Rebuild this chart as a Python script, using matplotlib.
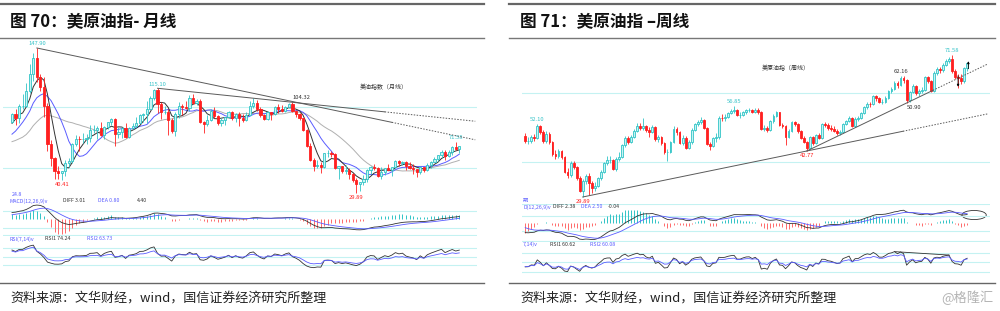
import numpy as np
import pandas as pd
import matplotlib
matplotlib.use("Agg")
import matplotlib.pyplot as plt
from matplotlib.lines import Line2D
from matplotlib.patches import Ellipse

plt.rcParams['font.family'] = ['Noto Sans CJK SC', 'DejaVu Sans']

# ---------------- 月线 (2007-12 .. 2018-06) ----------------
m_open = [88.0, 93.8, 91.0, 100.5, 101.0, 113.0, 127.0, 140.0, 124.5, 116.0,
          101.0, 69.5, 58.0, 47.5, 46.5, 47.5, 54.0, 56.0, 70.0, 74.0,
          73.5, 74.0, 75.0, 81.0, 81.5, 83.0, 77.0, 83.5, 87.5, 90.0,
          78.0, 79.5, 82.5, 75.5, 83.0, 84.5, 87.0, 93.5, 94.0, 98.5,
          107.5, 114.0, 102.5, 95.5, 96.0, 89.5, 80.5, 94.0, 101.0, 99.5,
          99.0, 107.5, 103.5, 105.0, 88.0, 86.0, 89.0, 96.5, 92.5, 87.0,
          89.0, 91.5, 95.5, 90.5, 94.5, 91.0, 89.5, 93.5, 101.0, 103.0,
          98.0, 93.0, 90.0, 95.5, 94.5, 99.5, 98.5, 97.0, 100.0, 102.0,
          97.0, 94.5, 90.5, 81.5, 68.5, 56.5, 51.5, 52.5, 51.0, 62.0,
          62.5, 61.5, 50.0, 51.5, 47.5, 48.5, 45.0, 40.5, 37.0, 38.5,
          41.5, 48.5, 51.0, 50.5, 44.0, 47.0, 50.0, 48.5, 51.0, 55.5,
          54.0, 55.2, 51.8, 50.5, 49.5, 47.2, 51.3, 48.4, 52.8, 55.4,
          57.8, 60.5, 63.4, 60.3, 63.6, 67.2, 65.8]
m_high = [95.0, 98.5, 102.0, 110.5, 119.0, 134.5, 143.5, 147.9, 127.0, 124.0,
          103.0, 73.0, 59.0, 52.0, 48.0, 57.0, 58.5, 70.5, 77.0, 76.0,
          79.0, 77.5, 85.5, 85.5, 84.0, 87.5, 84.0, 88.0, 91.0, 91.0,
          83.5, 83.5, 86.5, 83.5, 87.0, 91.5, 94.5, 95.0, 104.5, 108.5,
          114.5, 115.1, 104.0, 101.0, 98.0, 91.0, 95.5, 104.0, 102.5, 104.5,
          110.0, 110.5, 106.5, 106.5, 88.5, 93.5, 98.5, 100.0, 93.0, 90.5,
          91.5, 96.5, 96.5, 95.0, 95.5, 94.0, 96.0, 104.5, 107.0, 105.5,
          100.0, 94.0, 97.0, 96.0, 100.5, 102.0, 101.5, 101.0, 103.5, 104.32,
          97.5, 95.0, 91.0, 82.0, 70.5, 58.0, 57.0, 55.0, 62.5, 65.0,
          64.0, 62.0, 52.0, 52.0, 52.5, 50.0, 46.0, 42.0, 39.0, 44.5,
          49.0, 52.0, 53.5, 51.0, 51.0, 50.5, 53.5, 51.0, 56.5, 56.5,
          56.0, 55.6, 55.0, 53.2, 49.6, 51.6, 51.4, 54.0, 55.8, 59.5,
          60.6, 65.2, 65.0, 65.2, 68.3, 71.58, 68.3]
m_low = [86.5, 85.5, 87.0, 98.0, 100.0, 111.5, 121.0, 120.5, 112.5, 92.0,
         64.0, 52.0, 41.5, 41.0, 40.41, 43.5, 51.0, 54.0, 68.5, 64.0,
         70.5, 69.5, 71.0, 79.0, 74.0, 76.5, 73.5, 82.0, 85.5, 68.5,
         75.0, 75.0, 74.5, 74.5, 82.0, 83.0, 86.5, 87.5, 87.0, 98.0,
         105.5, 95.0, 90.0, 94.0, 77.0, 78.5, 76.5, 90.5, 93.5, 98.0,
         96.5, 102.5, 101.5, 87.0, 78.7, 84.5, 88.5, 90.5, 85.0, 84.5,
         85.0, 90.5, 89.0, 88.0, 84.0, 87.5, 88.5, 93.0, 99.0, 97.0,
         92.0, 89.0, 89.5, 89.0, 93.5, 95.0, 96.0, 95.5, 99.0, 96.0,
         92.0, 89.5, 80.5, 67.5, 55.5, 47.5, 50.0, 46.5, 50.0, 59.5,
         59.5, 49.5, 41.0, 46.0, 45.5, 41.5, 38.5, 29.89, 31.5, 36.5,
         38.5, 45.5, 48.5, 43.0, 41.5, 44.5, 48.5, 44.0, 50.5, 52.0,
         52.5, 48.3, 49.4, 45.0, 42.9, 45.2, 46.8, 47.7, 50.2, 55.0,
         56.2, 58.5, 57.1, 58.8, 60.7, 64.7, 62.3]
m_close = [93.8, 91.0, 100.5, 101.0, 113.0, 127.0, 140.0, 124.5, 116.0, 101.0,
           69.5, 58.0, 47.5, 46.5, 47.5, 54.0, 56.0, 70.0, 74.0, 73.5,
           74.0, 75.0, 81.0, 81.5, 83.0, 77.0, 83.5, 87.5, 90.0, 78.0,
           79.5, 82.5, 75.5, 83.0, 84.5, 87.0, 93.5, 94.0, 98.5, 107.5,
           114.0, 102.5, 95.5, 96.0, 89.5, 80.5, 94.0, 101.0, 99.5, 99.0,
           107.5, 103.5, 105.0, 88.0, 86.0, 89.0, 96.5, 92.5, 87.0, 89.0,
           91.5, 95.5, 90.5, 94.5, 91.0, 89.5, 93.5, 101.0, 103.0, 98.0,
           93.0, 90.0, 95.5, 94.5, 99.5, 98.5, 97.0, 100.0, 102.0, 97.0,
           94.5, 90.5, 81.5, 68.5, 56.5, 51.5, 52.5, 51.0, 62.0, 62.5,
           61.5, 50.0, 51.5, 47.5, 48.5, 45.0, 40.5, 37.0, 38.5, 41.5,
           48.5, 51.0, 50.5, 44.0, 47.0, 50.0, 48.5, 51.0, 55.5, 54.0,
           55.2, 51.8, 50.5, 49.5, 47.2, 51.3, 48.4, 52.8, 55.4, 57.8,
           60.5, 63.4, 60.3, 63.6, 67.2, 65.8, 67.8]
# closes before the first visible month (2005-01 .. 2007-11), only warm up MA/MACD/RSI
m_pre_close = [48.2, 51.8, 55.4, 49.7, 52.0, 56.5, 60.6, 68.9, 66.2, 59.8, 57.3, 61.0,
               67.9, 61.4, 66.6, 71.9, 71.3, 73.9, 74.4, 70.3, 62.9, 58.7, 63.0, 61.1,
               58.1, 61.8, 65.9, 65.7, 64.0, 70.7, 78.2, 74.0, 81.7, 94.5, 88.7]

# ---------------- 周线 (2015-09-07 .. 2018-06-25) ----------------
w_open = [47.6, 46.1, 46.2, 47.2, 47.0, 50.4, 48.8, 46.1, 48.1, 45.8,
          42.2, 41.9, 43.2, 41.5, 37.1, 36.2, 39.6, 38.5, 35.5, 31.7,
          34.5, 35.9, 33.8, 32.6, 33.2, 35.3, 37.1, 39.7, 40.6, 40.7,
          38.0, 40.9, 41.6, 44.9, 47.1, 45.9, 47.4, 49.0, 50.5, 49.8,
          50.3, 49.2, 48.8, 50.2, 46.6, 47.2, 45.4, 42.8, 43.0, 45.7,
          49.7, 48.8, 45.6, 47.1, 44.2, 45.7, 49.4, 51.0, 51.6, 52.1,
          49.9, 45.3, 44.6, 46.9, 47.3, 52.9, 52.7, 53.1, 54.2, 54.9,
          55.2, 53.6, 53.6, 54.4, 55.0, 55.1, 54.6, 55.2, 54.5, 49.7,
          50.0, 49.2, 51.8, 53.4, 54.4, 50.8, 50.5, 47.4, 49.0, 51.5,
          51.0, 48.9, 47.0, 45.9, 44.2, 47.2, 45.4, 47.7, 47.0, 50.9,
          50.8, 50.0, 49.7, 49.1, 48.5, 48.7, 51.1, 51.9, 52.9, 50.5,
          52.6, 52.7, 54.1, 55.8, 56.9, 56.7, 59.1, 58.5, 57.5, 57.5,
          58.6, 60.5, 61.2, 62.8, 62.2, 64.4, 63.9, 57.9, 60.3, 62.1,
          59.9, 60.7, 61.0, 64.5, 63.5, 60.7, 65.9, 66.9, 66.6, 68.2,
          69.2, 69.8, 66.3, 64.5, 64.3, 63.4, 67.2]
w_high = [48.3, 47.4, 47.9, 48.2, 51.0, 50.8, 49.2, 48.9, 48.6, 46.2,
          43.4, 43.9, 43.6, 41.8, 38.3, 40.2, 40.4, 38.8, 35.9, 35.1,
          36.6, 36.8, 34.6, 34.1, 35.8, 37.6, 40.1, 41.9, 41.8, 41.0,
          41.4, 42.8, 45.3, 47.6, 47.5, 47.9, 49.6, 51.2, 51.2, 52.9,
          50.8, 50.1, 50.8, 50.4, 47.9, 47.6, 45.7, 43.7, 46.1, 50.3,
          50.1, 49.1, 47.8, 47.5, 46.5, 49.8, 51.4, 52.1, 53.1, 52.4,
          50.1, 45.9, 47.4, 48.4, 53.3, 53.8, 53.9, 54.6, 55.3, 56.3,
          55.5, 54.4, 54.9, 55.4, 55.6, 55.5, 55.7, 55.6, 54.8, 50.6,
          50.5, 52.2, 53.8, 54.8, 54.6, 51.3, 50.8, 49.5, 52.0, 52.0,
          51.3, 49.2, 47.5, 46.2, 47.6, 47.5, 48.1, 48.4, 51.3, 51.6,
          51.2, 50.6, 50.3, 49.6, 49.4, 51.4, 52.3, 53.4, 53.1, 53.0,
          53.3, 54.6, 56.3, 57.4, 57.5, 59.4, 59.5, 58.9, 58.3, 59.0,
          60.8, 61.8, 63.4, 63.5, 64.9, 64.8, 64.1, 60.7, 62.5, 62.4,
          61.2, 61.8, 64.9, 64.9, 63.8, 66.3, 67.4, 67.6, 68.6, 69.7,
          70.3, 71.0, 66.8, 65.6, 65.5, 67.6, 69.0]
w_low = [45.4, 45.2, 45.6, 46.0, 46.6, 48.0, 45.6, 45.5, 45.2, 41.8,
         40.8, 41.2, 40.9, 36.8, 35.4, 35.8, 37.9, 34.9, 31.2, 29.89,
         33.6, 30.5, 31.0, 31.6, 32.8, 34.9, 36.8, 39.2, 39.8, 37.6,
         37.5, 40.2, 41.2, 44.4, 45.2, 45.5, 47.0, 48.6, 49.2, 49.4,
         48.6, 47.4, 48.3, 46.2, 45.9, 44.9, 42.3, 40.4, 42.7, 45.4,
         47.9, 45.1, 44.9, 43.8, 43.8, 45.3, 49.0, 50.4, 51.0, 49.5,
         44.9, 43.4, 44.3, 45.9, 46.7, 52.0, 51.9, 52.8, 53.9, 54.3,
         53.2, 52.9, 53.2, 53.8, 54.4, 54.1, 54.2, 54.0, 49.3, 49.1,
         48.6, 48.9, 51.4, 53.0, 50.4, 49.9, 45.0, 47.0, 48.7, 50.4,
         48.5, 46.6, 45.4, 43.2, 43.9, 45.0, 45.1, 46.6, 46.8, 50.1,
         49.3, 49.0, 48.6, 47.9, 47.8, 48.4, 50.7, 51.5, 50.1, 50.2,
         51.8, 52.4, 53.8, 55.4, 55.9, 56.4, 57.6, 57.0, 56.8, 57.2,
         58.3, 60.0, 60.8, 61.5, 61.9, 62.9, 57.1, 57.5, 59.9, 59.4,
         59.1, 60.0, 60.6, 62.9, 60.2, 60.4, 65.3, 65.9, 66.1, 67.8,
         68.7, 65.9, 64.0, 61.5, 62.5, 63.0, 66.4]
w_close = [46.1, 46.2, 47.2, 47.0, 50.4, 48.8, 46.1, 48.1, 45.8, 42.2,
           41.9, 43.2, 41.5, 37.1, 36.2, 39.6, 38.5, 35.5, 31.7, 34.5,
           35.9, 33.8, 32.6, 33.2, 35.3, 37.1, 39.7, 40.6, 40.7, 38.0,
           40.9, 41.6, 44.9, 47.1, 45.9, 47.4, 49.0, 50.5, 49.8, 50.3,
           49.2, 48.8, 50.2, 46.6, 47.2, 45.4, 42.8, 43.0, 45.7, 49.7,
           48.8, 45.6, 47.1, 44.2, 45.7, 49.4, 51.0, 51.6, 52.1, 49.9,
           45.3, 44.6, 46.9, 47.3, 52.9, 52.7, 53.1, 54.2, 54.9, 55.2,
           53.6, 53.6, 54.4, 55.0, 55.1, 54.6, 55.2, 54.5, 49.7, 50.0,
           49.2, 51.8, 53.4, 54.4, 50.8, 50.5, 47.4, 49.0, 51.5, 51.0,
           48.9, 47.0, 45.9, 44.2, 47.2, 45.4, 47.7, 47.0, 50.9, 50.8,
           50.0, 49.7, 49.1, 48.5, 48.7, 51.1, 51.9, 52.9, 50.5, 52.6,
           52.7, 54.1, 55.8, 56.9, 56.7, 59.1, 58.5, 57.5, 57.5, 58.6,
           60.5, 61.2, 62.8, 62.2, 64.4, 63.9, 57.9, 60.3, 62.1, 59.9,
           60.7, 61.0, 64.5, 63.5, 60.7, 65.9, 66.9, 66.6, 68.2, 69.2,
           69.8, 66.3, 64.5, 64.3, 63.4, 67.2, 68.6]
# weekly closes before the first visible week (2015-03 .. 2015-09), warm-up only
w_pre_close = [51.1, 46.3, 47.2, 50.4, 50.6, 53.1, 57.2, 58.7, 60.7, 60.9,
               61.2, 61.2, 61.8, 60.6, 61.5, 61.1, 61.1, 58.4, 54.2, 52.4,
               49.6, 48.6, 45.4, 44.0, 42.0, 46.7, 47.6]

# labelled extremes: (candle index, text, kind)
m_marks = [(7, '147.90', 'hi'), (14, '40.41', 'lo'), (41, '115.10', 'hi'),
           (79, '104.32', 'note_hi'), (97, '29.89', 'lo'), (125, '71.58', 'hi')]
w_marks = [(4, '52.10', 'hi'), (19, '29.89', 'lo'), (69, '56.85', 'hi'),
           (93, '42.77', 'lo'), (124, '62.16', 'note_hi_c'), (126, '50.90', 'note_lo'),
           (141, '71.58', 'hi')]

W, H = 1000, 311
UP_FACE = '#c6f3f3'
UP_EDGE = '#30c4c6'
DOWN = '#ff2020'
GRID = '#c4f2f2'
BLUE = '#5a5cff'
DARK = '#333333'
TL = '#5a5a5a'

fig = plt.figure(figsize=(W / 100, H / 100), dpi=100)
fig.patch.set_facecolor('white')


def px_axes(x0, y0, x1, y1):
    ax = fig.add_axes([x0 / W, 1 - y1 / H, (x1 - x0) / W, (y1 - y0) / H])
    ax.set_axis_off()
    return ax


def hline(x0, x1, y, color, lw):
    fig.add_artist(Line2D([x0 / W, x1 / W], [1 - y / H, 1 - y / H], color=color, lw=lw))


def ftext(x, y, s, **kw):
    fig.text(x / W, 1 - y / H, s, va='center', **kw)


def indicators(pre, close):
    s = pd.Series(pre + close, dtype=float)
    n = len(close)
    diff = s.ewm(span=12, adjust=False).mean() - s.ewm(span=26, adjust=False).mean()
    dea = diff.ewm(span=9, adjust=False).mean()
    bar = 2 * (diff - dea)
    d = s.diff().fillna(0)

    def rsi(k):
        up = d.clip(lower=0).ewm(alpha=1 / k, adjust=False).mean()
        tot = d.abs().ewm(alpha=1 / k, adjust=False).mean()
        return (100 * up / tot.replace(0, np.nan)).values[-n:]

    ma = {k: s.rolling(k).mean().values[-n:] for k in (5, 10, 20)}
    return diff.values[-n:], dea.values[-n:], bar.values[-n:], rsi(7), rsi(14), ma


def candles(ax, o, h, l, c, width):
    o, h, l, c = map(np.asarray, (o, h, l, c))
    x = np.arange(len(c))
    up = c >= o
    ax.vlines(x, l, h, colors=list(np.where(up, UP_EDGE, DOWN)), lw=0.6, zorder=2)
    ax.bar(x[up], c[up] - o[up], bottom=o[up], width=width, color=UP_FACE,
           edgecolor=UP_EDGE, lw=0.6, zorder=3)
    ax.bar(x[~up], o[~up] - c[~up], bottom=c[~up], width=width, color=DOWN,
           edgecolor=DOWN, lw=0.6, zorder=3)


MARK_STYLE = {'hi': ('#35c3c8', 'center', 'bottom'), 'lo': (DOWN, 'center', 'top'),
              'note_hi': (DARK, 'left', 'bottom'), 'note_hi_c': (DARK, 'center', 'bottom'),
              'note_lo': (DARK, 'left', 'top')}


def marks(ax, hi, lo, items):
    for idx, txt, kind in items:
        col, ha, va = MARK_STYLE[kind]
        up = va == 'bottom'
        ax.annotate(txt, (idx, hi[idx] if up else lo[idx]), xytext=(0, 1.2 if up else -1.5),
                    textcoords='offset points', ha=ha, va=va, fontsize=4.2, color=col)


def trend(ax, i0, p0, i1, p1, solid_end, dotted_end):
    k = (p1 - p0) / (i1 - i0)
    ax.plot([i0, solid_end], [p0, p0 + k * (solid_end - i0)], color=TL, lw=0.7, zorder=4)
    ax.plot([solid_end, dotted_end], [p0 + k * (solid_end - i0), p0 + k * (dotted_end - i0)],
            color=TL, lw=0.7, ls=(0, (1.5, 1.5)), zorder=4)


def macd_panel(ax, diff, dea, bar, fracs, lo_k, hi_k):
    x = np.arange(len(diff))
    for f in fracs:
        ax.plot([0, 1], [f, f], transform=ax.transAxes, color=GRID, lw=0.8)
    ax.vlines(x, 0, bar, colors=list(np.where(bar >= 0, UP_EDGE, '#ff6a6a')), lw=0.7)
    ax.plot(x, diff, color=DARK, lw=0.6)
    ax.plot(x, dea, color=BLUE, lw=0.6)
    m = np.nanmax(np.abs(np.concatenate([diff, dea, bar])))
    ax.set_ylim(-lo_k * m, hi_k * m)


def rsi_panel(ax, r1, r2, ylim):
    x = np.arange(len(r1))
    for g in (80, 50, 20):
        ax.axhline(g, color=GRID, lw=0.8)
    ax.plot(x, r1, color=DARK, lw=0.6)
    ax.plot(x, r2, color=BLUE, lw=0.6)
    ax.set_ylim(*ylim)


# ---------------- frame, titles, sources ----------------
for x0, x1, tx in ((0, 484, 10), (509, 995, 520)):
    hline(x0, x1, 4, '#666666', 1.6)
    hline(x0, x1, 38, '#777777', 1.0)
    hline(x0, x1, 283, '#666666', 1.0)
    ftext(tx, 298, '资料来源：文华财经，wind，国信证券经济研究所整理', fontsize=9.4, color='#222222')
ftext(10, 22, '图 70：美原油指- 月线', fontsize=12, fontweight='bold', color='#111111')
ftext(520, 22, '图 71：美原油指 –周线', fontsize=12, fontweight='bold', color='#111111')
ftext(993, 298, '@格隆汇', fontsize=9.5, color='#b4b4b4', ha='right')

# ---------------- monthly panel ----------------
diff, dea, bar, r1, r2, ma = indicators(m_pre_close, m_close)
m_xlim = (-2.535, 130.99)

ax = px_axes(3, 40, 477, 199)
for g in (100, 50):
    ax.axhline(g, color=GRID, lw=0.8, zorder=0)
xm = np.arange(len(m_close))
ax.plot(xm, ma[20], color='#b0b0b0', lw=0.7, zorder=1)
ax.plot(xm, ma[10], color=BLUE, lw=0.7, zorder=1)
ax.plot(xm, ma[5], color=DARK, lw=0.7, zorder=1)
candles(ax, m_open, m_high, m_low, m_close, 0.62)
marks(ax, m_high, m_low, m_marks)
trend(ax, 7, m_high[7], 79, m_high[79], 107, 130.5)
trend(ax, 41, m_high[41], 68, m_high[68], 105, 130.5)
ax.set_xlim(*m_xlim)
ax.set_ylim(24.94, 154.41)
ftext(384, 87, '美油指数（月线）', fontsize=4.3, color=DARK, ha='center')

ax = px_axes(3, 203, 477, 236)
macd_panel(ax, diff, dea, bar, (0.758, 0.242, 0.03), 1.12, 1.05)
ax.set_xlim(*m_xlim)
ax = px_axes(3, 238, 477, 276)
rsi_panel(ax, r1, r2, (-18.8, 115.3))
ax.set_xlim(*m_xlim)

ftext(12, 195, '24.8', fontsize=3.8, color=BLUE)
ftext(10, 201, 'MACD(12,26,9)v', fontsize=3.8, color=BLUE)
ftext(63, 201, 'DIFF 3.01', fontsize=3.8, color=DARK)
ftext(98, 201, 'DEA 0.80', fontsize=3.8, color=BLUE)
ftext(137, 201, '4.40', fontsize=3.8, color=DARK)
ftext(10, 239, 'RSI(7,14)v', fontsize=3.8, color=BLUE)
ftext(45, 239, 'RSI1 74.24', fontsize=3.8, color=DARK)
ftext(87, 239, 'RSI2 63.73', fontsize=3.8, color=BLUE)

# ---------------- weekly panel ----------------
diff, dea, bar, r1, r2, _ = indicators(w_pre_close, w_close)
w_xlim = (-1.057, 153.55)

ax = px_axes(522, 40, 990, 202)
for g in (60, 40):
    ax.axhline(g, color=GRID, lw=0.8, zorder=0)
candles(ax, w_open, w_high, w_low, w_close, 0.6)
marks(ax, w_high, w_low, w_marks)
trend(ax, 19, w_low[19], 93, w_low[93], 124.8, 152.7)
trend(ax, 93, w_low[93], 126, w_low[126], 134.7, 152.7)
ax.annotate('', xy=(143, 61.0), xytext=(143, 65.8),
            arrowprops=dict(arrowstyle='-|>', lw=0.6, color='black', mutation_scale=3))
ax.annotate('', xy=(146.4, 70.0), xytext=(146.4, 66.2),
            arrowprops=dict(arrowstyle='-|>', lw=0.6, color='black', mutation_scale=3))
ax.set_xlim(*w_xlim)
ax.set_ylim(28.44, 75.34)
ftext(786, 68, '美原油指（周线）', fontsize=4.3, color=DARK, ha='center')

ax = px_axes(522, 204, 990, 242)
macd_panel(ax, diff, dea, bar, (0.995, 0.684, 0.289, 0.026), 1.15, 1.15)
ax.add_patch(Ellipse((0.966, 0.71), 0.052, 0.24, transform=ax.transAxes,
                     fill=False, color=DARK, lw=0.6))
ax.set_xlim(*w_xlim)
ax = px_axes(522, 243, 990, 280)
rsi_panel(ax, r1, r2, (-5.3, 111.6))
ax.plot([122, 140], [r1[122], r1[140]], color=DARK, lw=0.6)
ax.set_xlim(*w_xlim)

ftext(523, 200, '期', fontsize=3.8, color=BLUE)
ftext(523, 207, 'D(12,26,9)v', fontsize=3.8, color=BLUE)
ftext(553, 207, 'DIFF 2.38', fontsize=3.8, color=DARK)
ftext(581, 207, 'DEA 2.50', fontsize=3.8, color=BLUE)
ftext(608, 207, '-0.04', fontsize=3.8, color=DARK)
ftext(523, 244, '7,14)v', fontsize=3.8, color=BLUE)
ftext(550, 244, 'RSI1 60.62', fontsize=3.8, color=DARK)
ftext(590, 244, 'RSI2 60.08', fontsize=3.8, color=BLUE)

fig.savefig('out.png', dpi=100, facecolor='white')
